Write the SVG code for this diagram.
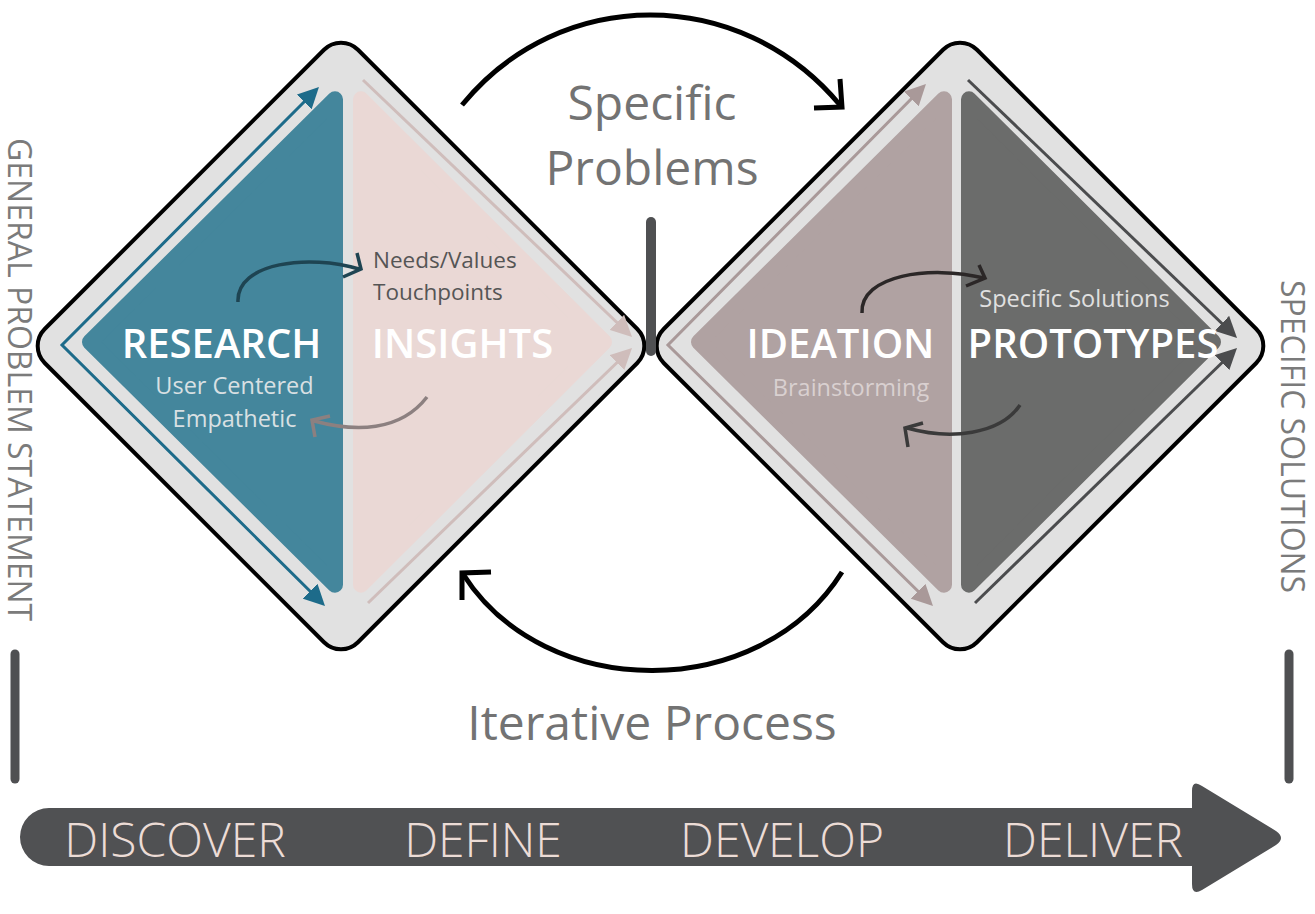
<svg xmlns="http://www.w3.org/2000/svg" width="1315" height="914" viewBox="0 0 1315 914">
  <style>
    text { font-family: "Open Sans", "Liberation Sans", sans-serif; }
    .frame { fill: #e1e1e1; stroke: #000; stroke-width: 4; }
    .stage { font-size: 40px; font-weight: 600; fill: #ffffff; text-anchor: middle; }
    .note { font-size: 23.5px; text-anchor: middle; }
    .note-left { font-size: 22.5px; text-anchor: start; fill: #555555; }
    .title { font-size: 48px; fill: #737373; text-anchor: middle; }
    .side { font-size: 32px; fill: #7b7b7b; }
    .phase { font-size: 48px; font-weight: 300; fill: #ecdcd6; text-anchor: middle; }
    .bar { stroke: #4f5052; stroke-linecap: round; fill: none; }
    .loop { fill: none; stroke: #000; stroke-width: 5; }
    .flow { fill: none; stroke-width: 3; }
    .tri { stroke-width: 16; stroke-linejoin: round; }
  </style>
  <defs>
    <marker id="head-blue" viewBox="0 0 10 10" refX="8" refY="5" markerWidth="7" markerHeight="7" markerUnits="strokeWidth" orient="auto-start-reverse">
      <path d="M0,0 L10,5 L0,10 Z" fill="#1d6b8a"/>
    </marker>
    <marker id="head-pink" viewBox="0 0 10 10" refX="8" refY="5" markerWidth="7" markerHeight="7" markerUnits="strokeWidth" orient="auto-start-reverse">
      <path d="M0,0 L10,5 L0,10 Z" fill="#cfbdbb"/>
    </marker>
    <marker id="head-mauve" viewBox="0 0 10 10" refX="8" refY="5" markerWidth="7" markerHeight="7" markerUnits="strokeWidth" orient="auto-start-reverse">
      <path d="M0,0 L10,5 L0,10 Z" fill="#a99999"/>
    </marker>
    <marker id="head-dark" viewBox="0 0 10 10" refX="8" refY="5" markerWidth="7" markerHeight="7" markerUnits="strokeWidth" orient="auto-start-reverse">
      <path d="M0,0 L10,5 L0,10 Z" fill="#4b4c4e"/>
    </marker>
  </defs>

  <!-- first diamond: research / insights -->
  <g id="diamond-discover-define">
    <rect class="frame" x="119.5" y="124.5" width="443" height="443" rx="24" transform="rotate(45 341 346)"/>
    <g id="node-research">
      <polygon class="tri" points="335,99.3 90,342 335,584.7" fill="#44869c" stroke="#44869c"/>
      <text class="stage" x="221.5" y="358">RESEARCH</text>
      <text class="note" x="234.5" y="394" fill="#d9e0e3">User Centered</text>
      <text class="note" x="234.5" y="427" fill="#d9e0e3">Empathetic</text>
    </g>
    <g id="node-insights">
      <polygon class="tri" points="361,99.3 604,342 361,584.7" fill="#ead8d5" stroke="#ead8d5"/>
      <text class="stage" x="462.5" y="358">INSIGHTS</text>
      <text class="note-left" x="373" y="268">Needs/Values</text>
      <text class="note-left" x="373" y="300">Touchpoints</text>
    </g>
  </g>

  <!-- second diamond: ideation / prototypes -->
  <g id="diamond-develop-deliver">
    <rect class="frame" x="738.5" y="124.5" width="443" height="443" rx="24" transform="rotate(45 960 346)"/>
    <g id="node-ideation">
      <polygon class="tri" points="944,99.3 699,342 944,584.7" fill="#b0a2a2" stroke="#b0a2a2"/>
      <text class="stage" x="840.5" y="358">IDEATION</text>
      <text class="note" x="851" y="396" fill="#d9d0d0">Brainstorming</text>
    </g>
    <g id="node-prototypes">
      <polygon class="tri" points="969,99.3 1213,342 969,584.7" fill="#6b6c6b" stroke="#6b6c6b"/>
      <text class="note" x="1074.5" y="307" fill="#e0e0e0" font-size="22px">Specific Solutions</text>
    </g>
  </g>

  <!-- divider between the two diamonds -->
  <line class="bar" x1="651" y1="222" x2="651" y2="351" stroke-width="10"/>

  <g id="connectors">
    <!-- edge flows along the diamond sides -->
    <polyline class="flow" points="316,90 62,345 322,603" stroke="#1d6b8a" marker-start="url(#head-blue)" marker-end="url(#head-blue)"/>
    <line class="flow" x1="363" y1="80" x2="629" y2="334" stroke="#cfbdbb" marker-end="url(#head-pink)"/>
    <line class="flow" x1="368" y1="603" x2="629" y2="351" stroke="#cfbdbb" marker-end="url(#head-pink)"/>
    <polyline class="flow" points="923,87 668,345 930,603" stroke="#a99999" marker-start="url(#head-mauve)" marker-end="url(#head-mauve)"/>
    <line class="flow" x1="968" y1="80" x2="1234" y2="335" stroke="#4b4c4e" marker-end="url(#head-dark)"/>
    <line class="flow" x1="975" y1="603" x2="1234" y2="351" stroke="#4b4c4e" marker-end="url(#head-dark)"/>

    <!-- inner loops -->
    <path d="M238,302 C236,262 310,254 359,269" fill="none" stroke="#1e4452" stroke-width="3.5"/>
    <polyline points="343,277 361,269 357,253" fill="none" stroke="#1e4452" stroke-width="3.5"/>
    <path d="M427,397 C400,432 355,432 314,421" fill="none" stroke="#8c8080" stroke-width="3.5"/>
    <polyline points="330,416 312,420 315,437" fill="none" stroke="#8c8080" stroke-width="3.5"/>
    <path d="M862,313 C860,275 930,265 984,278" fill="none" stroke="#2b2727" stroke-width="3.5"/>
    <polyline points="966,286 985,278 979,265" fill="none" stroke="#2b2727" stroke-width="3.5"/>
    <path d="M1020,405 C1000,435 950,440 907,428" fill="none" stroke="#3a3a3a" stroke-width="3.5"/>
    <polyline points="923,423 905,428 908,447" fill="none" stroke="#3a3a3a" stroke-width="3.5"/>

    <!-- iteration loops between diamonds -->
    <path class="loop" d="M462,105 C560,-15 740,-15 840,105"/>
    <polyline class="loop" points="840,79 842,107 814,108"/>
    <path class="loop" d="M842,572 C760,703 545,703 463,574"/>
    <polyline class="loop" points="491,572 462,573 462,600"/>
  </g>

  <!-- drawn over the side arrows, as the label sits above them -->
  <text class="stage" x="1093" y="358">PROTOTYPES</text>

  <g id="labels">
    <text class="title" x="652" y="120">Specific</text>
    <text class="title" x="652" y="185">Problems</text>
    <text class="title" x="652" y="740" font-size="47">Iterative Process</text>
    <text class="side" x="8" y="138" transform="rotate(90 8 138)">GENERAL PROBLEM STATEMENT</text>
    <text class="side" x="1281" y="280" transform="rotate(90 1281 280)">SPECIFIC SOLUTIONS</text>
  </g>

  <!-- side markers -->
  <line class="bar" x1="15" y1="654" x2="15" y2="779" stroke-width="9"/>
  <line class="bar" x1="1289" y1="654" x2="1289" y2="779" stroke-width="9"/>

  <!-- phase timeline -->
  <g id="timeline">
    <path d="M49,808 H1192 V791 Q1192,779 1202,786 L1276,831 Q1286,838 1276,845 L1202,890 Q1192,896 1192,884 V866 H49 A29,29 0 0 1 49,808 Z" fill="#505153"/>
    <text class="phase" x="175" y="857">DISCOVER</text>
    <text class="phase" x="483" y="857">DEFINE</text>
    <text class="phase" x="782" y="857">DEVELOP</text>
    <text class="phase" x="1093" y="857">DELIVER</text>
  </g>
</svg>
